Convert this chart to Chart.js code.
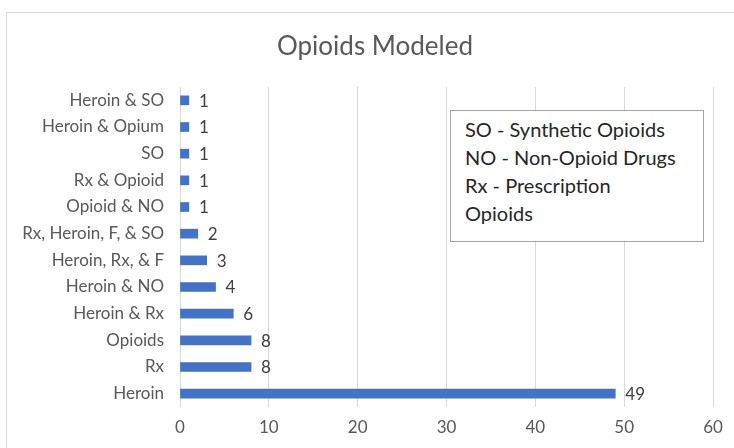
<!DOCTYPE html>
<html>
<head>
<meta charset="utf-8">
<script src="https://cdn.jsdelivr.net/npm/chart.js@4"></script>
<style>
  html, body { margin: 0; padding: 0; background: #fff; overflow: hidden; }
  #wrap { position: relative; width: 734px; height: 448px; }
  #frame { position: absolute; left: 6px; top: 12px; width: 800px; height: 500px; border: 1px solid #d9d9d9; }
  #chart { position: absolute; left: 0; top: 0; }
  #nota {
    position: absolute; left: 450px; top: 110px; width: 238px; height: 126px;
    border: 1px solid #a6a6a6; background: #fff;
    padding: 4px 0 0 14px; font: 20px Lato, sans-serif; line-height: 28px; color: #262626;
  }
</style>
</head>
<body>
<div id="wrap">
  <div id="frame"></div>
  <canvas id="chart" width="734" height="448"></canvas>
  <div id="nota">SO - Synthetic Opioids<br>NO - Non-Opioid Drugs<br>Rx - Prescription<br>Opioids</div>
</div>
<script>
// categories de dalt a baix
const categories = ['Heroin & SO', 'Heroin & Opium', 'SO', 'Rx & Opioid', 'Opioid & NO',
  'Rx, Heroin, F, & SO', 'Heroin, Rx, & F', 'Heroin & NO', 'Heroin & Rx', 'Opioids', 'Rx', 'Heroin'];
const counts = [1, 1, 1, 1, 1, 2, 3, 4, 6, 8, 8, 49];
const xTicks = [0, 10, 20, 30, 40, 50, 60];
const titol = 'Opioids Modeled';

const GREY = '#595959';
const FONT = 'Lato, sans-serif';

// títol centrat dins del marc del gràfic (no dins del canvas)
const capcalera = {
  id: 'capcalera',
  afterDraw(chart) {
    const ctx = chart.ctx;
    ctx.save();
    ctx.font = '26px ' + FONT;
    ctx.fillStyle = GREY;
    ctx.textAlign = 'center';
    ctx.textBaseline = 'middle';
    ctx.fillText(titol, 375, 47);
    ctx.restore();
  }
};

// etiquetes de valor al final de cada barra
const etiquetes = {
  id: 'etiquetes',
  afterDatasetsDraw(chart) {
    const ctx = chart.ctx;
    const meta = chart.getDatasetMeta(0);
    ctx.save();
    ctx.font = '17px ' + FONT;
    ctx.fillStyle = '#404040';
    ctx.textBaseline = 'middle';
    ctx.textAlign = 'left';
    meta.data.forEach((bar, i) => {
      ctx.fillText(String(counts[i]), bar.x + 10, bar.y + 1);
    });
    ctx.restore();
  }
};

new Chart(document.getElementById('chart'), {
  type: 'bar',
  data: {
    labels: categories,
    datasets: [{
      data: counts,
      backgroundColor: '#4472c4',
      barThickness: 9
    }]
  },
  options: {
    indexAxis: 'y',
    responsive: false,
    animation: false,
    layout: { padding: { left: 0, right: 21, top: 87, bottom: 0 } },
    plugins: {
      legend: { display: false },
      tooltip: { enabled: false },
      title: { display: false }
    },
    scales: {
      x: {
        min: 0, max: 60,
        afterBuildTicks: s => { s.ticks = xTicks.map(v => ({ value: v })); },
        afterFit: s => { s.height = 41; },
        grid: { color: '#d9d9d9', drawTicks: false },
        border: { display: false },
        ticks: { color: GREY, padding: 10, font: { family: FONT, size: 17 } }
      },
      y: {
        afterFit: s => { s.width = 180; },
        grid: { display: false, drawTicks: false },
        border: { display: false },
        ticks: { color: GREY, padding: 16, font: { family: FONT, size: 17 } }
      }
    }
  },
  plugins: [etiquetes, capcalera]
});
</script>
</body>
</html>
